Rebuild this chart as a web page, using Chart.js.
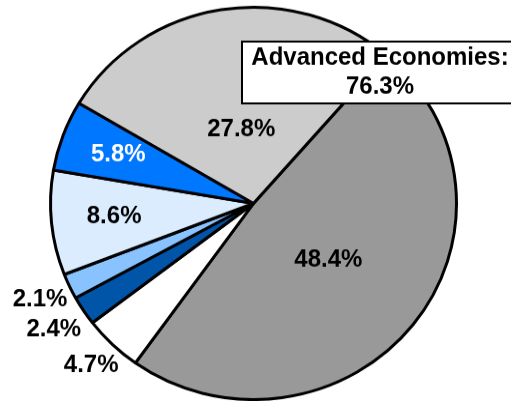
<!DOCTYPE html>
<html>
<head>
<meta charset="utf-8">
<script src="https://cdn.jsdelivr.net/npm/chart.js@4/dist/chart.umd.min.js"></script>
<style>
  html, body { margin: 0; padding: 0; background: #fff; overflow: hidden; }
  #wrap { width: 511px; height: 415px; transform: scaleY(0.9663); transform-origin: 0 0; }
</style>
</head>
<body>
<div id="wrap"><canvas id="chart" width="511" height="415"></canvas></div>
<script>
// Shares (%), clockwise from the upper-right boundary
const categories = ['Advanced A', 'Emerging E', 'Emerging D', 'Emerging C', 'Emerging B', 'Emerging A', 'Advanced B'];
const shares = [48.4, 4.7, 2.4, 2.1, 8.6, 5.8, 27.8];
const sliceColors = ['#999999', '#ffffff', '#0055a8', '#88c2ff', '#dbecff', '#0077ff', '#cccccc'];
const boxLines = ['Advanced Economies:', '76.3%'];

// radial label placement, as fraction of the outer radius
const labelSpots = [0.47, 1.15, 1.175, 1.16, 0.69, 0.71, 0.38];
const labelColors = ['#000', '#000', '#000', '#000', '#000', '#fff', '#000'];

// undo the page's vertical squash for text
function drawText(ctx, txt, x, y) {
    ctx.save();
    ctx.translate(x, y);
    ctx.scale(1, 1 / 0.9663);
    ctx.fillText(txt, 0, 0);
    ctx.restore();
}

const pctLabels = {
    id: 'pctLabels',
    afterDatasetsDraw(chart) {
        const ctx = chart.ctx;
        const meta = chart.getDatasetMeta(0);
        ctx.save();
        ctx.font = 'bold 24px "Liberation Sans", Arial, sans-serif';
        ctx.textAlign = 'center';
        ctx.textBaseline = 'middle';
        meta.data.forEach((arc, i) => {
            const mid = (arc.startAngle + arc.endAngle) / 2;
            const r = arc.outerRadius * labelSpots[i];
            ctx.fillStyle = labelColors[i];
            drawText(ctx, shares[i].toFixed(1) + '%', arc.x + Math.cos(mid) * r, arc.y + Math.sin(mid) * r);
        });

        // callout box
        ctx.fillStyle = '#fff';
        ctx.strokeStyle = '#000';
        ctx.lineWidth = 2;
        ctx.fillRect(242, 43, 280, 64);
        ctx.strokeRect(242, 43, 280, 64);
        ctx.fillStyle = '#000';
        drawText(ctx, boxLines[0], 380, 60);
        drawText(ctx, boxLines[1], 380, 90);
        ctx.restore();
    }
};

new Chart(document.getElementById('chart'), {
    type: 'pie',
    data: {
        labels: categories,
        datasets: [{
            data: shares,
            backgroundColor: sliceColors,
            borderColor: '#000',
            borderWidth: 3,
            hoverOffset: 0
        }]
    },
    options: {
        responsive: false,
        animation: false,
        rotation: 41,
        radius: 203,
        layout: { padding: { left: 0, right: 4, top: 6, bottom: 0 } },
        plugins: {
            legend: { display: false },
            tooltip: { enabled: false }
        }
    },
    plugins: [pctLabels]
});
</script>
</body>
</html>
